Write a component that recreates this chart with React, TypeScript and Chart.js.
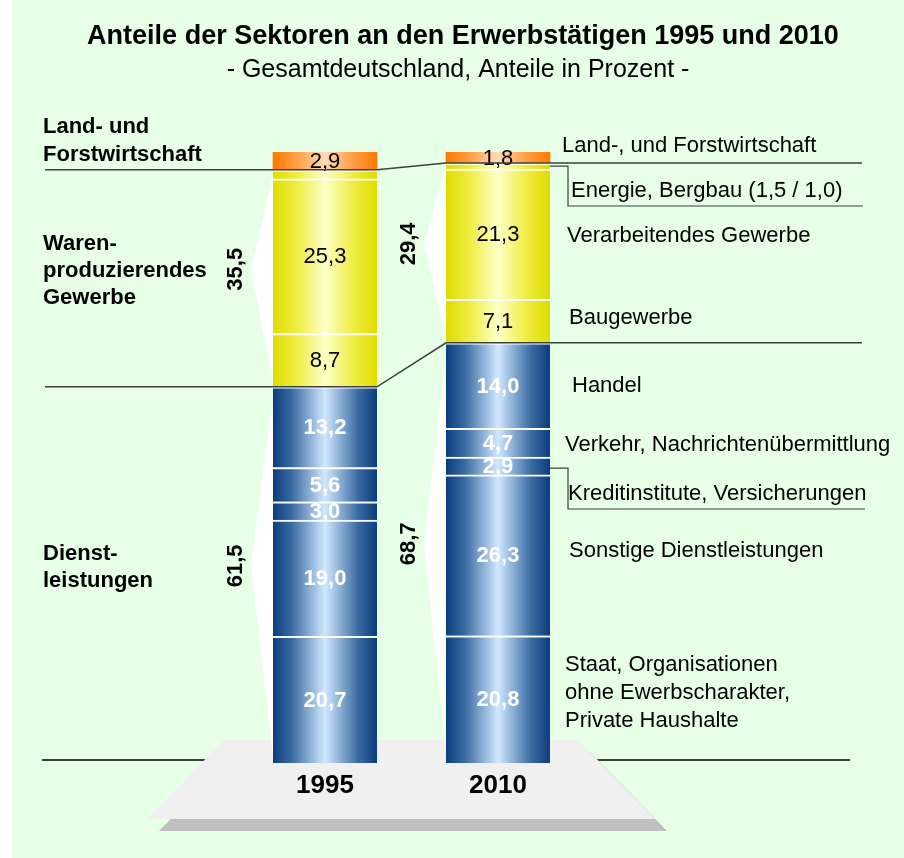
import React, { useEffect, useRef } from 'react';
import { Chart, registerables } from 'chart.js';

Chart.register(...registerables);

// ---------- data ----------
const years = ['1995', '2010'];
const staat = [20.7, 20.8];
const sonstige = [19.0, 26.3];
const kredit = [3.0, 2.9];
const verkehr = [5.6, 4.7];
const handel = [13.2, 14.0];
const bau = [8.7, 7.1];
const verarb = [25.3, 21.3];
const energie = [1.5, 1.0];
const land = [2.9, 1.8];
const warenTotal = [35.5, 29.4];
const dienstTotal = [61.5, 68.7];

const seriesNames = [
  'Staat, Organisationen ohne Ewerbscharakter, Private Haushalte',
  'Sonstige Dienstleistungen',
  'Kreditinstitute, Versicherungen',
  'Verkehr, Nachrichtenübermittlung',
  'Handel',
  'Baugewerbe',
  'Verarbeitendes Gewerbe',
  'Energie, Bergbau',
  'Land-, und Forstwirtschaft',
];
const seriesValues = [staat, sonstige, kredit, verkehr, handel, bau, verarb, energie, land];
const seriesKind = ['blue', 'blue', 'blue', 'blue', 'blue', 'yellow', 'yellow', 'yellow', 'orange'];
const showValue = [true, true, true, true, true, true, true, false, true];

const FONT = "'Liberation Sans', Arial, Helvetica, sans-serif";
const BAR_W = 104;
const BG = '#e6ffe6';
const LINE = '#3a413a';

const fmt = (v: number) => v.toFixed(1).replace('.', ',');

const stops: Record<string, [number, string][]> = {
  blue: [[0, '#0a3d7c'], [0.18, '#3a6aa2'], [0.5, '#d0e8ff'], [0.82, '#3a6aa2'], [1, '#0a3d7c']],
  yellow: [[0, '#dfdc00'], [0.22, '#eeec40'], [0.5, '#ffffc8'], [0.78, '#eeec40'], [1, '#dfdc00']],
  orange: [[0, '#ff7a00'], [0.25, '#ffa24a'], [0.5, '#ffdcb8'], [0.75, '#ffa24a'], [1, '#ff7a00']],
};
const solid: Record<string, string> = { blue: '#3d6da4', yellow: '#eeec40', orange: '#ffa24a' };

function makeFill(kind: string) {
  return (c: any) => {
    const chart = c.chart;
    const xs = chart.scales && chart.scales.x;
    if (!xs || c.dataIndex == null || !isFinite(xs.getPixelForValue(c.dataIndex))) return solid[kind];
    const cx = xs.getPixelForValue(c.dataIndex);
    const g = chart.ctx.createLinearGradient(cx - BAR_W / 2, 0, cx + BAR_W / 2, 0);
    stops[kind].forEach(([o, col]) => g.addColorStop(o, col));
    return g;
  };
}

const decorPlugin = {
  id: 'decor',
  beforeDraw(chart: any) {
    const ctx = chart.ctx;
    ctx.save();
    ctx.fillStyle = '#ffffff';
    ctx.fillRect(0, 0, chart.width, chart.height);
    ctx.fillStyle = BG;
    ctx.fillRect(12, 0, chart.width - 12, chart.height);
    ctx.restore();
  },
  beforeDatasetsDraw(chart: any) {
    const ctx = chart.ctx;
    const xs = chart.scales.x;
    const ys = chart.scales.y;
    ctx.save();
    // base line
    ctx.strokeStyle = LINE;
    ctx.lineWidth = 2;
    ctx.beginPath();
    ctx.moveTo(42, 760);
    ctx.lineTo(850, 760);
    ctx.stroke();
    // platform shadow + platform
    const plat = [[224, 740], [578, 740], [655, 819], [147, 819]];
    ctx.fillStyle = '#c0c0c0';
    ctx.beginPath();
    plat.forEach(([x, y], i) => (i ? ctx.lineTo(x + 12, y + 12) : ctx.moveTo(x + 12, y + 12)));
    ctx.closePath();
    ctx.fill();
    ctx.fillStyle = '#f0f0f0';
    ctx.beginPath();
    plat.forEach(([x, y], i) => (i ? ctx.lineTo(x, y) : ctx.moveTo(x, y)));
    ctx.closePath();
    ctx.fill();
    // white wedges
    ctx.fillStyle = '#ffffff';
    years.forEach((_, i) => {
      const left = xs.getPixelForValue(i) - BAR_W / 2;
      const topW = ys.getPixelForValue(dienstTotal[i] + warenTotal[i]);
      const mid = ys.getPixelForValue(dienstTotal[i]);
      const bot = ys.getPixelForValue(0);
      [[topW, mid], [mid, bot]].forEach(([a, b]) => {
        ctx.beginPath();
        ctx.moveTo(left + 1, a);
        ctx.lineTo(left - 22, (a + b) / 2 - 9);
        ctx.lineTo(left + 1, b);
        ctx.closePath();
        ctx.fill();
      });
    });
    ctx.restore();
  },
  afterDatasetsDraw(chart: any) {
    const ctx = chart.ctx;
    const xs = chart.scales.x;
    const ys = chart.scales.y;
    ctx.save();
    ctx.textAlign = 'center';
    ctx.textBaseline = 'middle';
    // value labels
    seriesValues.forEach((vals, s) => {
      if (!showValue[s]) return;
      const meta = chart.getDatasetMeta(s);
      vals.forEach((v, i) => {
        const el = meta.data[i];
        const y = (el.y + el.base) / 2 + 1;
        if (seriesKind[s] === 'blue') {
          ctx.fillStyle = '#ffffff';
          ctx.font = `bold 22px ${FONT}`;
        } else {
          ctx.fillStyle = '#000000';
          ctx.font = `22px ${FONT}`;
        }
        ctx.fillText(fmt(v), el.x, y);
      });
    });

    const r0 = xs.getPixelForValue(0) + BAR_W / 2;
    const l1 = xs.getPixelForValue(1) - BAR_W / 2;
    const r1 = xs.getPixelForValue(1) + BAR_W / 2;
    // connector lines
    ctx.strokeStyle = LINE;
    ctx.lineWidth = 1.5;
    const landBase0 = ys.getPixelForValue(dienstTotal[0] + warenTotal[0]);
    const landBase1 = ys.getPixelForValue(dienstTotal[1] + warenTotal[1]);
    ctx.beginPath();
    ctx.moveTo(45, landBase0);
    ctx.lineTo(r0, landBase0);
    ctx.lineTo(l1, landBase1);
    ctx.lineTo(862, landBase1);
    ctx.stroke();
    const d0 = ys.getPixelForValue(dienstTotal[0]);
    const d1 = ys.getPixelForValue(dienstTotal[1]);
    ctx.beginPath();
    ctx.moveTo(45, d0);
    ctx.lineTo(r0, d0);
    ctx.lineTo(l1, d1);
    ctx.lineTo(862, d1);
    ctx.stroke();
    // energy bracket
    const eMeta = chart.getDatasetMeta(7).data[1];
    const eY = (eMeta.y + eMeta.base) / 2;
    ctx.lineWidth = 1.2;
    ctx.beginPath();
    ctx.moveTo(r1, eY);
    ctx.lineTo(568, eY);
    ctx.lineTo(568, 206);
    ctx.lineTo(863, 206);
    ctx.stroke();
    // kredit bracket
    const kMeta = chart.getDatasetMeta(2).data[1];
    const kY = (kMeta.y + kMeta.base) / 2 + 2;
    ctx.beginPath();
    ctx.moveTo(r1, kY);
    ctx.lineTo(568, kY);
    ctx.lineTo(568, 509);
    ctx.lineTo(865, 509);
    ctx.stroke();

    // titles
    ctx.fillStyle = '#000000';
    ctx.font = `bold 27px ${FONT}`;
    ctx.fillText('Anteile der Sektoren an den Erwerbstätigen 1995 und 2010', 463, 37);
    ctx.font = `25px ${FONT}`;
    ctx.fillText('- Gesamtdeutschland, Anteile in Prozent -', 458, 70);

    // year labels
    ctx.font = `bold 26px ${FONT}`;
    years.forEach((y, i) => ctx.fillText(y, xs.getPixelForValue(i), 786));

    // rotated group totals
    ctx.font = `bold 22px ${FONT}`;
    years.forEach((_, i) => {
      const left = xs.getPixelForValue(i) - BAR_W / 2;
      const topW = ys.getPixelForValue(dienstTotal[i] + warenTotal[i]);
      const mid = ys.getPixelForValue(dienstTotal[i]);
      const bot = ys.getPixelForValue(0);
      [[topW, mid, warenTotal[i]], [mid, bot, dienstTotal[i]]].forEach(([a, b, v]) => {
        ctx.save();
        ctx.translate(left - 37, (a + b) / 2 - 9);
        ctx.rotate(-Math.PI / 2);
        ctx.fillText(fmt(v), 0, 0);
        ctx.restore();
      });
    });

    // left group labels
    ctx.textAlign = 'left';
    ctx.font = `bold 22px ${FONT}`;
    const leftLabels: [string, number][] = [
      ['Land- und', 127], ['Forstwirtschaft', 155],
      ['Waren-', 244], ['produzierendes', 271], ['Gewerbe', 298],
      ['Dienst-', 554], ['leistungen', 581],
    ];
    leftLabels.forEach(([t, y]) => ctx.fillText(t, 43, y));

    // right sector labels
    ctx.font = `22px ${FONT}`;
    const rightLabels: [string, number, number][] = [
      [seriesNames[8], 562, 146],
      ['Energie, Bergbau (1,5 / 1,0)', 571, 191],
      [seriesNames[6], 567, 236],
      [seriesNames[5], 569, 318],
      [seriesNames[4], 572, 386],
      [seriesNames[3], 565, 445],
      [seriesNames[2], 568, 494],
      [seriesNames[1], 569, 551],
      ['Staat, Organisationen', 565, 665],
      ['ohne Ewerbscharakter,', 565, 693],
      ['Private Haushalte', 565, 721],
    ];
    rightLabels.forEach(([t, x, y]) => ctx.fillText(t, x, y));
    ctx.restore();
  },
};

export default function App() {
  const ref = useRef<HTMLCanvasElement>(null);
  useEffect(() => {
    if (!ref.current) return;
    const chart = new Chart(ref.current, {
      type: 'bar',
      data: {
        labels: years,
        datasets: seriesValues.map((vals, s) => ({
          label: seriesNames[s],
          data: vals,
          backgroundColor: makeFill(seriesKind[s]),
          borderColor: '#ffffff',
          borderWidth: s === 8 ? 0 : { top: 2, bottom: 0, left: 0, right: 0 },
          borderSkipped: false,
          barThickness: BAR_W,
        })),
      },
      options: {
        responsive: false,
        animation: false,
        events: [],
        layout: { padding: { top: 152, bottom: 95, left: 238.5, right: 319.5 } },
        plugins: { legend: { display: false }, tooltip: { enabled: false }, title: { display: false } },
        scales: {
          x: { stacked: true, display: false },
          y: { stacked: true, display: false, min: 0, max: 99.9 },
        },
      },
      plugins: [decorPlugin],
    });
    return () => chart.destroy();
  }, []);
  return (
    <div style={{ position: 'absolute', left: 0, top: 0, width: 904, height: 858 }}>
      <canvas ref={ref} width={904} height={858} style={{ display: 'block', width: 904, height: 858 }} />
    </div>
  );
}
